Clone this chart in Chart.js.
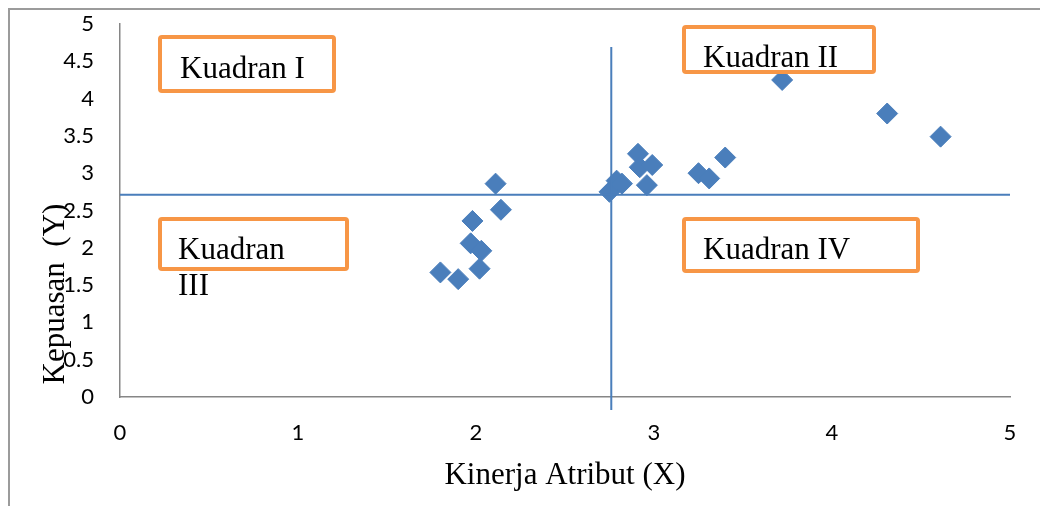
<!DOCTYPE html>
<html>
<head>
<meta charset="utf-8">
<script src="https://cdn.jsdelivr.net/npm/chart.js@4.4.1/dist/chart.umd.min.js"></script>
<style>
  html, body { margin: 0; padding: 0; background: #fff; }
  #wrap { width: 1040px; height: 506px; }
</style>
</head>
<body>
<div id="wrap"><canvas id="chartIPA" width="1040" height="506"></canvas></div>
<script>
// nilai rata-rata kinerja (X) dan kepuasan (Y) tiap atribut
const kinerja = [1.80, 1.90, 2.02, 1.97, 2.03, 1.98, 2.11, 2.14, 2.75, 2.79, 2.82, 2.91, 2.92, 2.99, 2.96, 3.25, 3.31, 3.40, 3.72, 4.31, 4.61];
const kepuasan = [1.67, 1.58, 1.72, 2.06, 1.96, 2.36, 2.86, 2.51, 2.75, 2.90, 2.86, 3.26, 3.08, 3.11, 2.84, 3.00, 2.93, 3.21, 4.25, 3.80, 3.49];

// garis pembagi kuadran
const batasX = 2.76;
const batasY = 2.71;

const ticksX = [0, 1, 2, 3, 4, 5];
const ticksY = [0, 0.5, 1, 1.5, 2, 2.5, 3, 3.5, 4, 4.5, 5];

const labelKuadran = [
  { teks: ["Kuadran I"], box: [160, 37, 174, 54], tx: 180, ty: 78 },
  { teks: ["Kuadran II"], box: [684, 27, 190, 45], tx: 703, ty: 67 },
  { teks: ["Kuadran", "III"], box: [160, 219, 187, 50], tx: 178, ty: 259 },
  { teks: ["Kuadran IV"], box: [684, 219, 234, 52], tx: 703, ty: 259 }
];

const BIRU = "#4A7EBB";
const ORANYE = "#F79646";
const SERIF = '"Liberation Serif", "Times New Roman", serif';

const points = kinerja.map((x, i) => ({ x: x, y: kepuasan[i] }));

const dekorasi = {
  id: "dekorasi",
  afterDraw(chart) {
    const ctx = chart.ctx;
    const sx = chart.scales.x, sy = chart.scales.y;
    ctx.save();

    // bingkai halaman
    ctx.strokeStyle = "#9b9b9b";
    ctx.lineWidth = 2;
    ctx.beginPath();
    ctx.moveTo(9, 506); ctx.lineTo(9, 9); ctx.lineTo(1040, 9);
    ctx.stroke();

    // garis kuadran
    ctx.strokeStyle = BIRU;
    ctx.lineWidth = 2;
    const gx = sx.getPixelForValue(batasX);
    const gy = sy.getPixelForValue(batasY);
    ctx.beginPath();
    ctx.moveTo(gx, 47); ctx.lineTo(gx, 410);
    ctx.moveTo(sx.getPixelForValue(0), gy); ctx.lineTo(sx.getPixelForValue(5), gy);
    ctx.stroke();

    // kotak label kuadran
    labelKuadran.forEach(k => {
      const [bx, by, bw, bh] = k.box;
      ctx.fillStyle = "#fff";
      ctx.strokeStyle = ORANYE;
      ctx.lineWidth = 4;
      ctx.beginPath();
      if (ctx.roundRect) ctx.roundRect(bx, by, bw, bh, 2); else ctx.rect(bx, by, bw, bh);
      ctx.fill();
      ctx.stroke();
      ctx.fillStyle = "#000";
      ctx.font = "31px " + SERIF;
      ctx.textAlign = "left";
      ctx.textBaseline = "alphabetic";
      k.teks.forEach((t, i) => ctx.fillText(t, k.tx, k.ty + i * 36));
    });

    // judul sumbu Y
    ctx.translate(56, 294);
    ctx.rotate(-Math.PI / 2);
    ctx.font = "31px " + SERIF;
    ctx.fillStyle = "#000";
    ctx.textAlign = "center";
    ctx.textBaseline = "middle";
    ctx.fillText("Kepuasan  (Y)", 0, 0);
    ctx.restore();
  }
};

new Chart(document.getElementById("chartIPA"), {
  type: "scatter",
  data: {
    datasets: [{
      label: "Atribut",
      data: points,
      pointStyle: "rectRot",
      pointRadius: 10.5,
      pointHoverRadius: 10.5,
      backgroundColor: BIRU,
      borderColor: BIRU,
      borderWidth: 1
    }]
  },
  options: {
    responsive: false,
    animation: false,
    layout: { padding: { top: 24, right: 30, left: 0, bottom: 0 } },
    plugins: { legend: { display: false }, tooltip: { enabled: false } },
    scales: {
      x: {
        type: "linear",
        min: 0, max: 5,
        afterBuildTicks: s => { s.ticks = ticksX.map(v => ({ value: v })); },
        afterFit: s => { s.height = 109; },
        grid: { display: false, drawTicks: false },
        border: { display: true, color: "#868686", width: 1.5 },
        ticks: { color: "#000", padding: 23, font: { family: "Lato", size: 22 }, callback: v => String(v) },
        title: {
          display: true,
          text: "Kinerja Atribut (X)",
          color: "#000",
          font: { family: SERIF, size: 31 },
          padding: { top: 0, bottom: 12 }
        }
      },
      y: {
        type: "linear",
        min: 0, max: 5,
        afterBuildTicks: s => { s.ticks = ticksY.map(v => ({ value: v })); },
        afterFit: s => { s.width = 120; s.paddingTop = 0; s.paddingBottom = 0; },
        grid: { display: false, drawTicks: false },
        border: { display: true, color: "#868686", width: 1.5 },
        ticks: { color: "#000", padding: 26, font: { family: "Lato", size: 22 }, callback: v => String(v) }
      }
    }
  },
  plugins: [dekorasi]
});
</script>
</body>
</html>
